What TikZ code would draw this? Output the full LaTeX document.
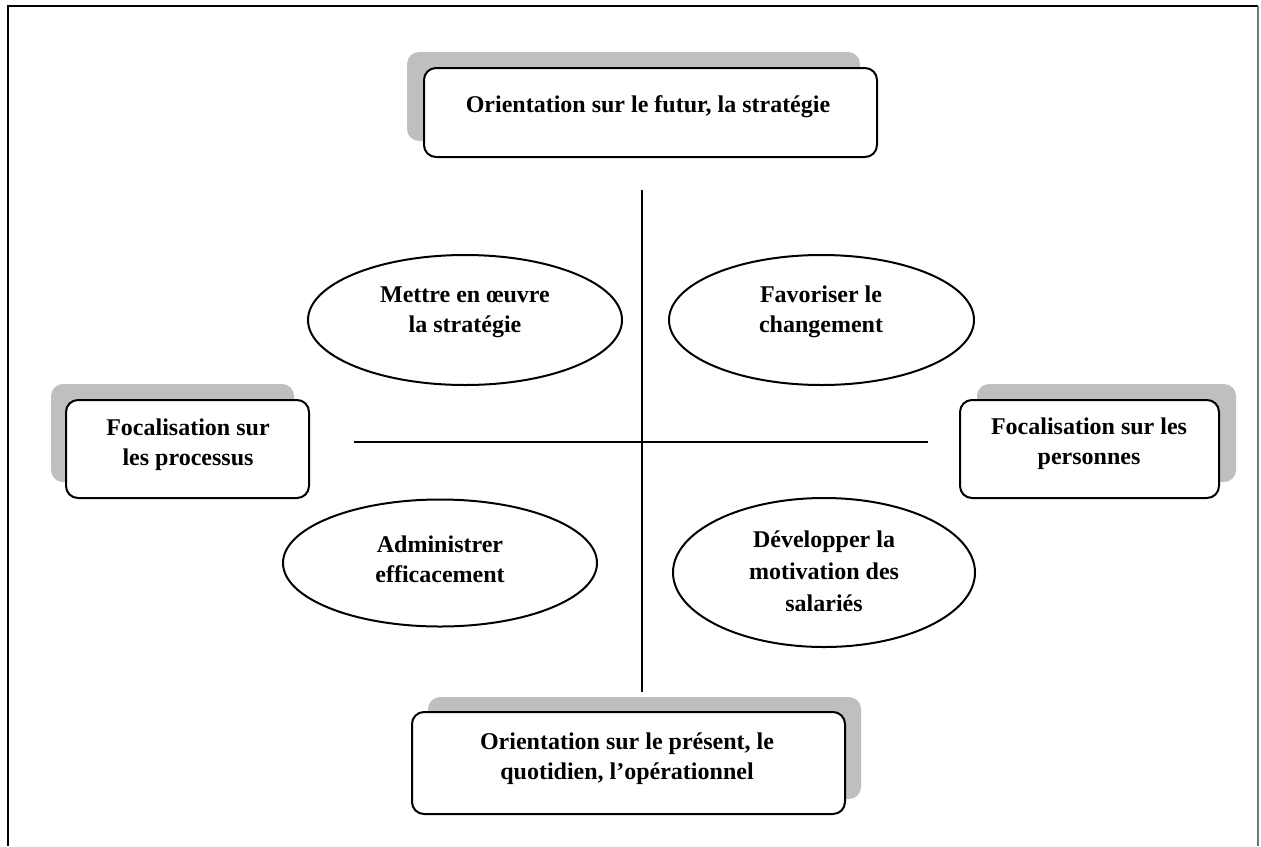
\documentclass[tikz,border=0pt]{standalone}
\usepackage{fontspec}
\setmainfont{Liberation Serif}
\usetikzlibrary{shapes.geometric,shadows}
\begin{document}
\begin{tikzpicture}[x=0.5pt,y=-0.5pt,
  every node/.style={inner sep=0pt, outer sep=0pt},
  lbl/.style={align=center, font=\bfseries\fontsize{12}{15}\selectfont},
  rbox/.style={draw=black, line width=1pt, fill=white, rounded corners=6pt},
  oval/.style={draw=black, line width=1pt, ellipse},
  sep/.style={draw=black, line width=1pt},
  shadowc/.style={fill=black!25, opacity=1}
]
\useasboundingbox (0,0) rectangle (1261,846);
% frame
\draw[black, line width=1pt] (8,846) -- (8,6) -- (1258,6);
\draw[black!55, line width=0.8pt] (1258,6) -- (1258,846);

% boxes with shadows
\node[rbox, minimum width=226.5pt, minimum height=44.5pt,
  drop shadow={shadow xshift=-8.5pt, shadow yshift=8pt, shadowc}] (top) at (650.5,112.5) {};
\node[rbox, minimum width=121.5pt, minimum height=49pt,
  drop shadow={shadow xshift=-7.5pt, shadow yshift=8pt, shadowc}] (left) at (187.5,449) {};
\node[rbox, minimum width=129.5pt, minimum height=49pt,
  drop shadow={shadow xshift=8.5pt, shadow yshift=8pt, shadowc}] (right) at (1089.5,449) {};
\node[rbox, minimum width=216.5pt, minimum height=51pt,
  drop shadow={shadow xshift=8pt, shadow yshift=7.5pt, shadowc}] (bottom) at (628.5,763) {};

\node[lbl] (toptxt) at (648,107) {Orientation sur le futur, la stratégie};
\node[lbl] (lefttxt) at (188,444.5) {Focalisation sur\\les processus};
\node[lbl] (righttxt) at (1089,444) {Focalisation sur les\\personnes};
\node[lbl] (bottomtxt) at (627,759) {Orientation sur le présent, le\\quotidien, l’opérationnel};

% axes
\coordinate (vtop) at (642,190);
\coordinate (vbot) at (642,692);
\coordinate (hleft) at (354,442);
\coordinate (hright) at (928,442);
\draw[sep] (vtop) -- (vbot);
\draw[sep] (hleft) -- (hright);

% ellipses
\node[oval, minimum width=157pt, minimum height=65pt] (e1) at (465,320) {};
\node[oval, minimum width=152.5pt, minimum height=65pt] (e2) at (821.5,320) {};
\node[oval, minimum width=157pt, minimum height=63.5pt] (e3) at (440,563) {};
\node[oval, minimum width=151pt, minimum height=74.5pt] (e4) at (824,572.5) {};

\node[lbl] (e1txt) at (465,312) {Mettre en œuvre\\la stratégie};
\node[lbl] (e2txt) at (821,312) {Favoriser le\\changement};
\node[lbl] (e3txt) at (440,559) {Administrer\\efficacement};
\node[lbl, align=center, font=\bfseries\fontsize{12}{16}\selectfont] (e4txt) at (824,571.5) {Développer la\\motivation des\\salariés};
\end{tikzpicture}
\end{document}
